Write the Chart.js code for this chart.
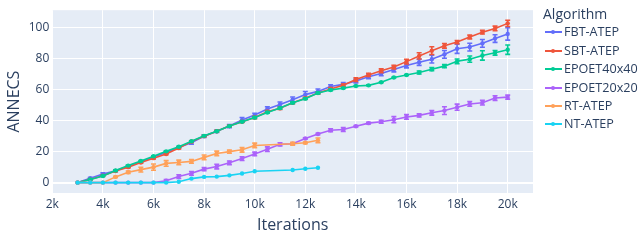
<!DOCTYPE html>
<html>
<head>
<meta charset="utf-8">
<script src="https://cdn.jsdelivr.net/npm/chart.js@4.4.1/dist/chart.umd.min.js"></script>
<style>
    html, body { margin: 0; padding: 0; background: #fff; }
    #wrap { position: relative; width: 640px; height: 249px; }
    #legend { position: absolute; left: 0; top: 0; font-family: "Open Sans", sans-serif; color: #2a3f5f; }
    .lg-title { position: absolute; left: 543px; top: 4px; font-size: 14px; line-height: 20px; white-space: nowrap; }
    .lg-item { position: absolute; left: 545px; height: 18px; white-space: nowrap; font-size: 12.6px; line-height: 18px; }
    .lg-line { position: absolute; left: 0; top: 8px; width: 17px; height: 2px; }
    .lg-dot { position: absolute; left: 6px; top: 7px; width: 4px; height: 4px; border-radius: 2px; }
    .lg-text { position: absolute; left: 19px; top: 0; }
</style>
</head>
<body>
<div id="wrap">
    <canvas id="chart" width="640" height="249"></canvas>
    <div id="legend"></div>
</div>
<script>
const iterations = [3000, 3500, 4000, 4500, 5000, 5500, 6000, 6500, 7000, 7500,
    8000, 8500, 9000, 9500, 10000, 10500, 11000, 11500, 12000, 12500,
    13000, 13500, 14000, 14500, 15000, 15500, 16000, 16500, 17000, 17500,
    18000, 18500, 19000, 19500, 20000];

const seriesNames = ['FBT-ATEP', 'SBT-ATEP', 'EPOET40x40', 'EPOET20x20', 'RT-ATEP', 'NT-ATEP'];
const seriesColors = ['#636EFA', '#EF553B', '#00CC96', '#AB63FA', '#FFA15A', '#19D3F3'];

const fbtAtep = [0, 2.8, 5.5, 7.6, 10.5, 13.5, 16.5, 19.5, 22.8, 25.8,
    30, 33.2, 36.5, 40.5, 43.6, 47.5, 50.5, 53.5, 56.8, 58.9,
    62, 63.4, 65.6, 68.3, 70.5, 73, 75.6, 77.7, 79.7, 82.8,
    86.4, 87.5, 89.9, 93, 96];
const fbtErr = [0, 0.5, 0.8, 0.5, 0.5, 0.5, 0.5, 0.5, 0.5, 1,
    0.8, 0.8, 1, 1.5, 1.2, 1.5, 1.5, 1.8, 2, 1.5,
    1.2, 1.2, 1.2, 1.2, 1.5, 1.5, 1.5, 2, 2.5, 2.5,
    3, 2.5, 2.5, 2.5, 4];

const sbtAtep = [0, 2, 4.5, 7.5, 10, 13, 15.8, 18.5, 22.3, 26.5,
    30, 33.2, 36.5, 39.3, 42, 45.7, 48, 51.5, 54.5, 57.8,
    60.5, 62.8, 66.5, 69.5, 72.2, 74.6, 78.1, 81.8, 85.2, 88.3,
    90.7, 94, 97.1, 99.5, 102.8];
const sbtErr = [0, 0.3, 0.3, 0.3, 0.5, 0.5, 0.5, 0.5, 0.5, 0.5,
    0.5, 0.5, 0.5, 0.5, 0.8, 0.8, 0.8, 0.5, 0.5, 0.5,
    0.8, 0.8, 1.2, 1, 1.2, 1.2, 1.5, 2, 2.5, 1.5,
    1, 1.2, 1.2, 1.5, 2];

const epoet40 = [0, 2, 4.3, 7.8, 11, 14, 17, 20.2, 23.2, 26.7,
    30.2, 33.2, 36.5, 39.3, 42, 45.3, 48.1, 51.6, 54.2, 57.9,
    59.8, 61, 62.4, 62.8, 64.8, 67.9, 69.5, 71.1, 73.2, 75.2,
    78.3, 79.7, 82.1, 83.8, 85.8];
const epoet40Err = [0, 0.3, 0.3, 0.3, 0.3, 0.3, 0.3, 0.3, 0.3, 0.3,
    0.3, 0.3, 0.3, 0.3, 0.5, 0.5, 0.5, 0.5, 0.5, 0.5,
    0.5, 0.3, 0.3, 0.3, 0.3, 0.3, 0.3, 1, 1, 1,
    1.5, 2, 3, 1.5, 3];

const epoet20 = [0, 0, 0, 0, 0, 0, 0, 1.2, 3.9, 6,
    8.7, 10.4, 12.8, 15.5, 18.5, 21.6, 24.7, 25.1, 28.5, 31.4,
    33.8, 34.3, 36.4, 38.4, 39.3, 40.6, 42.4, 43.4, 45.1, 46.5,
    48.7, 50.8, 51.6, 54.6, 55.2];
const epoet20Err = [0, 0, 0, 0, 0, 0, 0, 0.8, 1.2, 1.2,
    1, 1.5, 1.2, 1.2, 1.2, 1.5, 1, 0.5, 0.5, 0.5,
    1, 1.2, 0.5, 0.5, 1, 2, 1.5, 1, 1.5, 2.5,
    2, 1.5, 1.5, 1.5, 1.3];

const rtAtep = [0, 0, 0, 3.7, 6.7, 8.4, 10, 12.4, 13, 13.7,
    16.3, 18.8, 20, 21.2, 24, null, null, 25.1, 25.7, 27.3];
const rtErr = [0, 0, 0, 0.3, 0.8, 1.5, 2, 1.8, 1.5, 1.2,
    1.5, 1.5, 1, 1.5, 1.5, 0, 0, 1, 0.5, 1.5];

const ntAtep = [0, 0, 0, 0, 0, 0, 0, 0, 0.6, 2.6,
    3.7, 3.9, 4.7, 5.9, 7.3, null, null, 8.1, 9.0, 9.6];
const ntErr = [0, 0, 0, 0, 0, 0, 0, 0, 0, 0,
    0, 0, 0, 0, 0, 0, 0, 0, 0, 0];

const xTicks = [2000, 4000, 6000, 8000, 10000, 12000, 14000, 16000, 18000, 20000];
const yTicks = [0, 20, 40, 60, 80, 100];

const allValues = [fbtAtep, sbtAtep, epoet40, epoet20, rtAtep, ntAtep];
const allErrors = [fbtErr, sbtErr, epoet40Err, epoet20Err, rtErr, ntErr];

const fontFamily = '"Open Sans", verdana, arial, sans-serif';
const textColor = '#2a3f5f';

function toPoints(values) {
    return values.map((v, i) => ({ x: iterations[i], y: v }));
}

const datasets = seriesNames.map((name, i) => ({
    label: name,
    data: toPoints(allValues[i]),
    errors: allErrors[i],
    borderColor: seriesColors[i],
    backgroundColor: seriesColors[i],
    borderWidth: 1.6,
    pointRadius: 2.2,
    pointHoverRadius: 2.2,
    pointBorderWidth: 0,
    spanGaps: true,
    order: seriesNames.length - i
}));

// plot background
const plotBackground = {
    id: 'plotBackground',
    beforeDraw(chart) {
        const { ctx, chartArea } = chart;
        ctx.save();
        ctx.fillStyle = '#E5ECF6';
        ctx.fillRect(chartArea.left, chartArea.top, chartArea.right - chartArea.left, chartArea.bottom - chartArea.top);
        ctx.restore();
    }
};

// error bars drawn per dataset
const errorBars = {
    id: 'errorBars',
    afterDatasetDraw(chart, args) {
        const ds = chart.data.datasets[args.index];
        const xScale = chart.scales.x;
        const yScale = chart.scales.y;
        const ctx = chart.ctx;
        ctx.save();
        ctx.strokeStyle = ds.borderColor;
        ctx.lineWidth = 1.6;
        ds.data.forEach((p, j) => {
            const e = ds.errors[j];
            if (p.y === null || !e) return;
            const px = xScale.getPixelForValue(p.x);
            const top = yScale.getPixelForValue(p.y + e);
            const bottom = yScale.getPixelForValue(p.y - e);
            ctx.beginPath();
            ctx.moveTo(px, top);
            ctx.lineTo(px, bottom);
            ctx.moveTo(px - 2.5, top);
            ctx.lineTo(px + 2.5, top);
            ctx.moveTo(px - 2.5, bottom);
            ctx.lineTo(px + 2.5, bottom);
            ctx.stroke();
        });
        ctx.restore();
    }
};

new Chart(document.getElementById('chart'), {
    type: 'line',
    data: { datasets: datasets },
    options: {
        responsive: false,
        animation: false,
        layout: { padding: { left: 0, right: 107, top: 0, bottom: 0 } },
        plugins: {
            legend: { display: false },
            tooltip: { enabled: false }
        },
        scales: {
            x: {
                type: 'linear',
                min: 2000,
                max: 21000,
                afterBuildTicks(scale) {
                    scale.ticks = xTicks.map(v => ({ value: v }));
                },
                afterFit(scale) { scale.height = 56; },
                border: { display: false },
                grid: { color: '#ffffff', lineWidth: 1, drawTicks: false },
                ticks: {
                    padding: 4,
                    color: textColor,
                    font: { family: fontFamily, size: 12 },
                    maxRotation: 0,
                    callback: v => (v / 1000) + 'k'
                },
                title: {
                    display: true,
                    text: 'Iterations',
                    color: textColor,
                    font: { family: fontFamily, size: 16 },
                    padding: { top: 0, bottom: 14 }
                }
            },
            y: {
                type: 'linear',
                min: -6.7,
                max: 111.3,
                afterBuildTicks(scale) {
                    scale.ticks = yTicks.map(v => ({ value: v }));
                },
                afterFit(scale) { scale.width = 52.3; },
                border: { display: false },
                grid: {
                    color: '#ffffff',
                    drawTicks: false,
                    lineWidth: c => (c.tick && c.tick.value === 0 ? 2 : 1)
                },
                ticks: {
                    padding: 3,
                    color: textColor,
                    font: { family: fontFamily, size: 12 }
                },
                title: {
                    display: true,
                    text: 'ANNECS',
                    color: textColor,
                    font: { family: fontFamily, size: 16 },
                    padding: { top: 5, bottom: 0 }
                }
            }
        }
    },
    plugins: [plotBackground, errorBars]
});

// legend in plotly style
const legend = document.getElementById('legend');
const title = document.createElement('div');
title.className = 'lg-title';
title.textContent = 'Algorithm';
legend.appendChild(title);
seriesNames.forEach((name, i) => {
    const item = document.createElement('div');
    item.className = 'lg-item';
    item.style.top = (23.3 + 18.4 * i) + 'px';
    item.innerHTML = '<div class="lg-line"></div><div class="lg-dot"></div><div class="lg-text"></div>';
    item.querySelector('.lg-line').style.background = seriesColors[i];
    item.querySelector('.lg-dot').style.background = seriesColors[i];
    item.querySelector('.lg-text').textContent = name;
    legend.appendChild(item);
});
</script>
</body>
</html>
